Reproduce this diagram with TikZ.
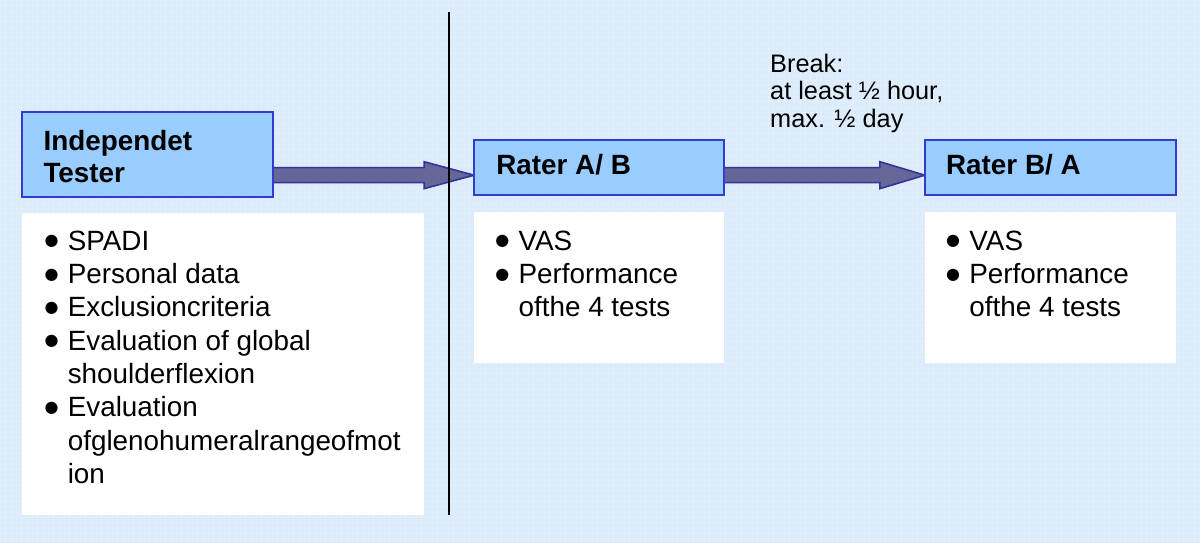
\documentclass[tikz,border=0pt]{standalone}
\usepackage{fontspec}
\setmainfont{Liberation Sans}
\newfontfamily\dejavu{DejaVu Sans}
\usetikzlibrary{calc}
\definecolor{bg}{RGB}{220,235,252}
\definecolor{hdrfill}{RGB}{153,204,255}
\definecolor{hdrdraw}{RGB}{51,60,204}
\definecolor{arrfill}{RGB}{102,102,153}
\definecolor{arrdraw}{RGB}{51,51,153}
\newcommand{\mybul}{\raisebox{3.3pt}{\dejavu\fontsize{12}{12}\selectfont ●}}
\begin{document}
\begin{tikzpicture}[x=0.75pt,y=-0.75pt,
  hdr/.style={draw=hdrdraw, line width=1.5pt, fill=hdrfill, inner sep=0pt},
  bodybox/.style={fill=white, draw=none, inner sep=0pt},
  arr/.style={draw=arrdraw, fill=arrfill, line width=1.2pt, line join=miter},
  txt/.style={inner sep=0pt, anchor=base west, font=\fontsize{20.9}{25}\selectfont},
  hdrtxt/.style={inner sep=0pt, anchor=base west, font=\fontsize{20.9}{24}\selectfont\bfseries},
  brktxt/.style={inner sep=0pt, anchor=base west, font=\fontsize{19}{20.6}\selectfont}]
% background
\fill[bg] (0,0) rectangle (1200,543);
\draw[white, opacity=0.18, line width=0.4pt, step=4pt] (0,0) grid (1200,543);
\useasboundingbox (0,0) rectangle (1200,543);

% white body boxes
\node[bodybox, minimum width=301.5pt, minimum height=226.5pt] (body1) at (223,364) {};
\node[bodybox, minimum width=187.5pt, minimum height=113.25pt] (body2) at (599,287.5) {};
\node[bodybox, minimum width=188.25pt, minimum height=113.25pt] (body3) at (1050.5,287.5) {};

% anchor points of header boxes for the connectors
\coordinate (ylev) at (0,175);
\coordinate (testerE) at (273,154.5);
\coordinate (raterAW) at (474,167.5);
\coordinate (raterAE) at (724,167.5);
\coordinate (raterBW) at (925,167.5);

% arrows
\draw[arr] ($(testerE |- ylev)+(0,-7.5)$) -- ($(raterAW |- ylev)+(-50,-7.5)$)
  -- ($(raterAW |- ylev)+(-50,-13.5)$) -- (raterAW |- ylev)
  -- ($(raterAW |- ylev)+(-50,13.5)$) -- ($(raterAW |- ylev)+(-50,7.5)$)
  -- ($(testerE |- ylev)+(0,7.5)$) -- cycle;
\draw[arr] ($(raterAE |- ylev)+(0,-7.5)$) -- ($(raterBW |- ylev)+(-45,-7.5)$)
  -- ($(raterBW |- ylev)+(-45,-13.5)$) -- (raterBW |- ylev)
  -- ($(raterBW |- ylev)+(-45,13.5)$) -- ($(raterBW |- ylev)+(-45,7.5)$)
  -- ($(raterAE |- ylev)+(0,7.5)$) -- cycle;

% vertical separator
\coordinate (vtop) at (449,12);
\coordinate (vbot) at (449,515);
\draw[line width=1.5pt, black] (vtop) -- (vbot);

% header boxes
\node[hdr, minimum width=188.25pt, minimum height=63.75pt] (tester) at (147.5,154.5) {};
\node[hdr, minimum width=187.5pt, minimum height=41.25pt] (raterA) at (599,167.5) {};
\node[hdr, minimum width=188.25pt, minimum height=41.25pt] (raterB) at (1050.5,167.5) {};

% header texts
\node[hdrtxt] (testertxt) at (43,150) {\begin{tabular}[t]{@{}l@{}}Independet\\Tester\end{tabular}};
\node[hdrtxt] (raterAtxt) at (496,174) {Rater A/ B};
\node[hdrtxt] (raterBtxt) at (946,174) {Rater B/ A};

% break text
\node[brktxt] (brk) at (770,72) {\begin{tabular}[t]{@{}l@{}}Break:\\at least ½ hour,\\max. ½ day\end{tabular}};

% lists
\node[txt] (list1) at (44,250) {\begin{tabular}[t]{@{}l@{\hspace{7pt}}l@{}}
\mybul & SPADI\\
\mybul & Personal data\\
\mybul & Exclusioncriteria\\
\mybul & Evaluation of global\\
 & shoulderflexion\\
\mybul & Evaluation\\
 & ofglenohumeralrangeofmot\\
 & ion
\end{tabular}};
\node[txt] (list2) at (495,250) {\begin{tabular}[t]{@{}l@{\hspace{7pt}}l@{}}
\mybul & VAS\\
\mybul & Performance\\
 & ofthe 4 tests
\end{tabular}};
\node[txt] (list3) at (946,250) {\begin{tabular}[t]{@{}l@{\hspace{7pt}}l@{}}
\mybul & VAS\\
\mybul & Performance\\
 & ofthe 4 tests
\end{tabular}};
\end{tikzpicture}
\end{document}
